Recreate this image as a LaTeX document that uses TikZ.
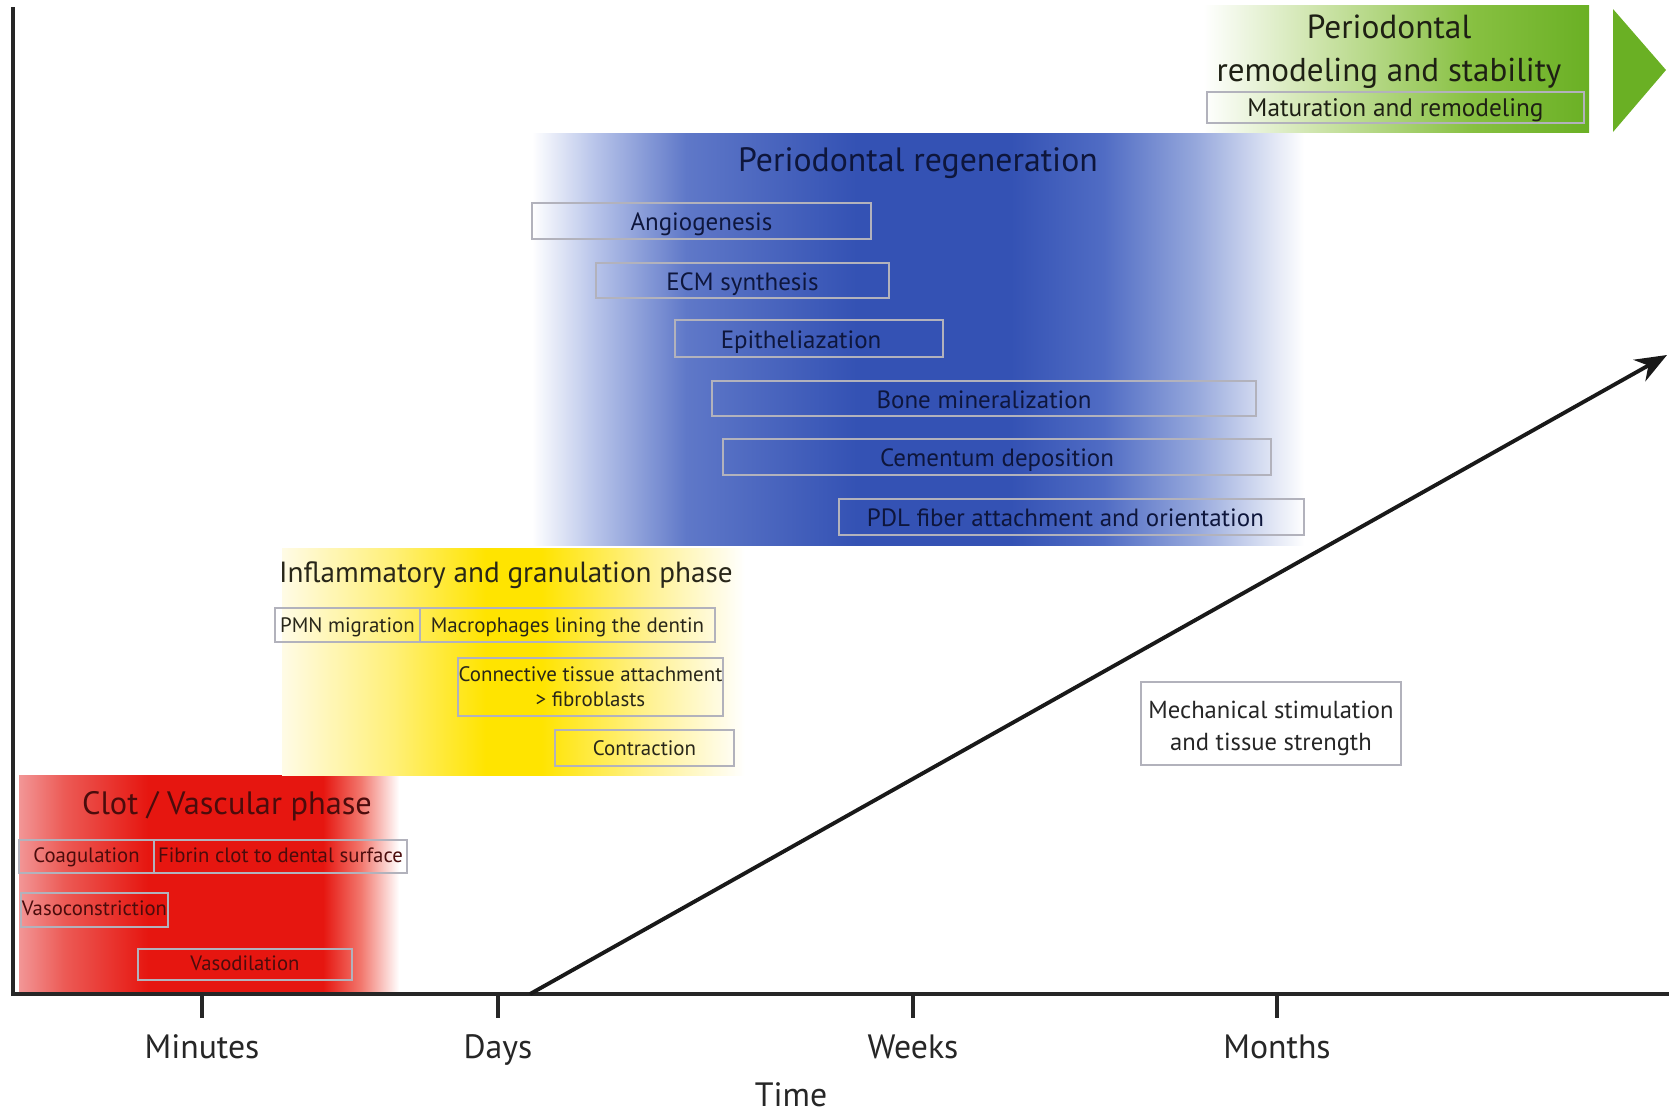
\documentclass[tikz,border=0pt]{standalone}
\usepackage{fontspec}
\setmainfont{PT Sans}
\usetikzlibrary{arrows.meta}

\definecolor{r0}{RGB}{242,150,150}
\definecolor{r1}{RGB}{236,90,85}
\definecolor{r2}{RGB}{230,22,16}
\definecolor{r3}{RGB}{242,120,110}
\definecolor{y0}{RGB}{255,251,230}
\definecolor{y1}{RGB}{255,240,120}
\definecolor{y2}{RGB}{255,228,0}
\definecolor{y3}{RGB}{255,242,150}
\definecolor{b1}{RGB}{185,197,234}
\definecolor{b2}{RGB}{95,120,200}
\definecolor{b3}{RGB}{52,82,180}
\definecolor{b4}{RGB}{80,108,196}
\definecolor{b5}{RGB}{150,168,220}
\definecolor{g1}{RGB}{205,228,170}
\definecolor{g2}{RGB}{135,192,65}
\definecolor{g3}{RGB}{106,176,36}
\definecolor{boxgray}{RGB}{178,178,188}
\definecolor{redtext}{RGB}{75,12,12}
\definecolor{bluetext}{RGB}{14,22,60}
\definecolor{yeltext}{RGB}{40,38,25}
\definecolor{greentext}{RGB}{30,32,20}

\pgfdeclarehorizontalshading{redsh}{100bp}{color(0bp)=(r0); color(25bp)=(r0); color(31bp)=(r1); color(42bp)=(r2); color(65bp)=(r2); color(70bp)=(r3); color(75bp)=(white); color(100bp)=(white)}
\pgfdeclarehorizontalshading{yelsh}{100bp}{color(0bp)=(y0); color(25bp)=(y0); color(37bp)=(y1); color(47bp)=(y2); color(53bp)=(y2); color(65bp)=(y3); color(75bp)=(white); color(100bp)=(white)}
\pgfdeclarehorizontalshading{bluesh}{100bp}{color(0bp)=(white); color(25bp)=(white); color(29bp)=(b1); color(35bp)=(b2); color(46bp)=(b3); color(56bp)=(b3); color(62bp)=(b4); color(68bp)=(b5); color(75bp)=(white); color(100bp)=(white)}
\pgfdeclarehorizontalshading{greensh}{100bp}{color(0bp)=(white); color(25bp)=(white); color(40bp)=(g1); color(60bp)=(g2); color(75bp)=(g3); color(100bp)=(g3)}

\tikzset{
  box/.style={draw=boxgray, line width=0.45pt, inner sep=0pt, align=center},
  bl/.style={box, font=\fontsize{7.1}{8}\selectfont, text=bluetext, text height=7pt, text depth=1.4pt},
  yl/.style={box, font=\fontsize{5.95}{7}\selectfont, text=yeltext, text height=5.2pt, text depth=1.2pt},
  rl/.style={box, font=\fontsize{5.9}{6.8}\selectfont, text=redtext, text height=4.4pt, text depth=1.2pt},
  gl/.style={box, font=\fontsize{7.2}{8}\selectfont, text=greentext, text height=6.3pt, text depth=1.2pt},
  ml/.style={box, fill=white, font=\fontsize{7}{9.1}\selectfont, text=black!85},
  bigt/.style={inner sep=0pt, anchor=base, font=\fontsize{9.6}{11}\selectfont},
  ticklbl/.style={inner sep=0pt, anchor=base, font=\fontsize{9.6}{11}\selectfont, text=black!85},
  axis/.style={line width=1.1pt, black!85},
  tick/.style={line width=0.9pt, black!85},
}

\begin{document}
\begin{tikzpicture}[x=0.01cm, y=-0.01cm]
\useasboundingbox (0,0) rectangle (1669,1111);

% phase regions
\shade[shading=redsh] (19,775) rectangle (399,994);
\shade[shading=yelsh] (282,548) rectangle (745,775);
\shade[shading=bluesh] (532,133) rectangle (1304,545);
\shade[shading=greensh] (1203,5) rectangle (1589,132);
\fill[g3] (1613,9) -- (1666,70) -- (1613,132) -- cycle;

% titles
\node[bigt, text=greentext, font=\fontsize{9.5}{10}\selectfont] (gt1) at (1389,38) {Periodontal};
\node[bigt, text=greentext, font=\fontsize{9.4}{10}\selectfont] (gt2) at (1389,81) {remodeling and stability};
\node[bigt, text=bluetext] (bt) at (918,171) {Periodontal regeneration};
\node[bigt, text=yeltext, font=\fontsize{8.3}{10}\selectfont] (yt) at (506,582) {Inflammatory and granulation phase};
\node[bigt, text=redtext, font=\fontsize{9.2}{10}\selectfont] (rt) at (227,814) {Clot / Vascular phase};

% green labels
\node[gl, minimum width=3.77cm, minimum height=0.31cm] (mat) at (1395.5,107.5) {Maturation and remodeling};

% blue labels
\node[bl, minimum width=3.39cm, minimum height=0.36cm] (ang) at (701.5,221) {Angiogenesis};
\node[bl, minimum width=2.93cm, minimum height=0.35cm] (ecm) at (742.5,280.5) {ECM synthesis};
\node[bl, minimum width=2.68cm, minimum height=0.37cm] (epi) at (809,338.5) {Epitheliazation\hspace*{4.5pt}};
\node[bl, minimum width=5.44cm, minimum height=0.35cm] (bone) at (984,398.5) {Bone mineralization};
\node[bl, minimum width=5.48cm, minimum height=0.36cm] (cem) at (997,457) {Cementum deposition};
\node[bl, minimum width=4.65cm, minimum height=0.36cm] (pdl) at (1071.5,517) {PDL fiber attachment and orientation\hspace*{3.5pt}};

% yellow labels
\node[yl, minimum width=1.45cm, minimum height=0.34cm] (pmn) at (347.5,625) {PMN migration};
\node[yl, minimum width=2.95cm, minimum height=0.34cm] (mac) at (567.5,625) {Macrophages lining the dentin};
\node[box, font=\fontsize{5.95}{7.2}\selectfont, text=yeltext, minimum width=2.65cm, minimum height=0.58cm] (con) at (590.5,687) {Connective tissue attachment\\> fibroblasts};
\node[yl, minimum width=1.79cm, minimum height=0.36cm] (ctr) at (644.5,748) {Contraction};

% red labels
\node[rl, minimum width=1.35cm, minimum height=0.33cm] (coa) at (86.5,856.5) {Coagulation};
\node[rl, minimum width=2.53cm, minimum height=0.33cm] (fib) at (280.5,856.5) {Fibrin clot to dental surface};
\node[rl, minimum width=1.47cm, minimum height=0.34cm] (vcon) at (94.5,910) {Vasoconstriction};
\node[rl, minimum width=2.14cm, minimum height=0.31cm] (vdil) at (245,964.5) {Vasodilation};

% mechanical stimulation
\node[ml, minimum width=2.60cm, minimum height=0.83cm] (mech) at (1271,723.5) {\rule{0pt}{7.6pt}Mechanical stimulation\\and tissue strength};

% axes
\coordinate (ytop) at (13,7);
\coordinate (O) at (13,994);
\coordinate (xend) at (1669,994);
\draw[axis] (ytop) -- (O) -- (xend);

% ticks
\coordinate (tm) at (202,994);
\coordinate (td) at (498,994);
\coordinate (tw) at (913,994);
\coordinate (tmo) at (1277,994);
\draw[tick] (tm) -- ++(0,24);
\draw[tick] (td) -- ++(0,24);
\draw[tick] (tw) -- ++(0,24);
\draw[tick] (tmo) -- ++(0,24);
\node[ticklbl] (lm) at (202,1058) {Minutes};
\node[ticklbl] (ld) at (498,1058) {Days};
\node[ticklbl] (lw) at (913,1058) {Weeks};
\node[ticklbl] (lmo) at (1277,1058) {Months};
\node[ticklbl] (ltime) at (791,1106) {Time};

% trend arrow
\coordinate (aS) at (530,994);
\coordinate (aE) at (1667,355);
\draw[line width=1.1pt, black!90, -{Stealth[length=9pt, width=7pt]}] (aS) -- (aE);
\end{tikzpicture}
\end{document}
